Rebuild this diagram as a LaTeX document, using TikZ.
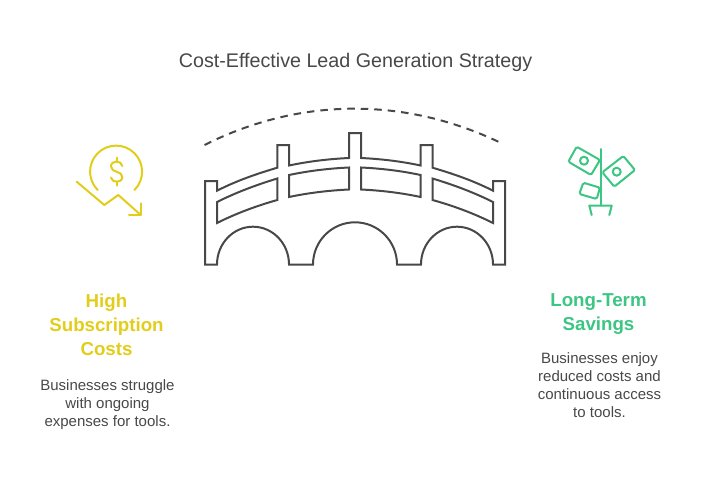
\documentclass[tikz,border=0pt]{standalone}
\usepackage{fontspec}
\setmainfont{Liberation Sans}
\usetikzlibrary{positioning}
\definecolor{inkgray}{HTML}{484848}
\definecolor{costyellow}{HTML}{E2CD1B}
\definecolor{savegreen}{HTML}{3CC583}
\tikzstyle{title}=[text=inkgray,font=\fontsize{19.7}{22}\selectfont]
\tikzstyle{heading}=[align=center,font=\bfseries\fontsize{18.7}{24}\selectfont]
\tikzstyle{body}=[align=center,text=inkgray,font=\fontsize{15}{18}\selectfont]
\tikzstyle{bridge}=[draw=inkgray,line width=2pt,line join=miter]
\tikzstyle{icon}=[line width=2pt,line cap=round,line join=round]

\begin{document}
\begin{tikzpicture}[x=1pt,y=-1pt]
  \useasboundingbox (0,0) rectangle (710,482);
  \node[title] (title) at (355.5,62) {Cost-Effective Lead Generation Strategy};
  % left column
  \node[heading,text=costyellow] (high) at (106.5,325) {High\\Subscription\\Costs};
  \node[body,below=17pt of high,xshift=1pt] (highbody) {Businesses struggle\\with ongoing\\expenses for tools.};
  % right column
  \node[heading,text=savegreen] (long) at (598.5,314) {Long-Term\\Savings};
  \node[body,below=11pt of long,xshift=1pt] (longbody) {Businesses enjoy\\reduced costs and\\continuous access\\to tools.};
  % arc over the bridge
  \draw[draw=inkgray,line width=2pt,dash pattern=on 7.5pt off 6pt] (204.5,145) .. controls (300,97) and (405,97) .. (500,142.5);
  % bridge outline
  \draw[bridge] (205,181) -- (217,181) -- (217,190.7)
    .. controls (236,181) and (256,174) .. (277.3,167.7) -- (277.3,145) -- (289,145) -- (289,165.5)
    .. controls (308,161.5) and (328,159) .. (349,158) -- (349,133) -- (361,133) -- (361,158)
    .. controls (382,159) and (402,161.5) .. (420.5,165.5) -- (420.5,145) -- (432.5,145) -- (432.5,167.7)
    .. controls (454,174) and (474,181) .. (493,190.7) -- (493,181) -- (505,181) -- (505,264.5) -- (493,264.5)
    arc (0:-180:36 and 37.8) -- (397,264.5)
    arc (0:-180:42 and 42.2) -- (289,264.5)
    arc (0:-180:36 and 37.8) -- (205,264.5) -- cycle;
  % railing panels
  \draw[bridge] (217,202) .. controls (236,192.5) and (256,185) .. (277.3,178.5) -- (277.3,200)
    .. controls (256,206) and (236,213.5) .. (217,223) -- cycle;
  \draw[bridge] (289,175) .. controls (308,171) and (328,168.5) .. (349,167.5) -- (349,189.5)
    .. controls (328,190.5) and (308,193) .. (289,197) -- cycle;
  \draw[bridge] (361,167.5) .. controls (382,168.5) and (402,171) .. (420.5,175) -- (420.5,197)
    .. controls (402,193) and (382,190.5) .. (361,189.5) -- cycle;
  \draw[bridge] (432.5,178.5) .. controls (454,185) and (474,192.5) .. (493,202) -- (493,223)
    .. controls (474,213.5) and (454,206) .. (432.5,200) -- cycle;
  % falling cost icon
  \begin{scope}[icon,draw=costyellow]
    \draw (97.7,190) arc (135:405:26);
    \draw (122.3,166) .. controls (121.5,160) and (111,160) .. (111,166.5) .. controls (111,173) and (122.3,170.5) .. (122.3,177)
      .. controls (122.3,183.5) and (111.5,183) .. (111,177.5);
    \draw (116.5,157.7) -- (116.5,161.5) (116.5,182) -- (116.5,185.7);
    \draw (76.7,181.7) -- (104.3,205) -- (118.3,195) -- (140,214.3);
    \draw (141,203.3) -- (141,215) -- (129,215);
  \end{scope}
  % money plant icon
  \begin{scope}[icon,draw=savegreen]
    \draw (600.7,149) -- (600.7,205.7);
    \draw (591.7,215) -- (589.3,205.7) -- (611.7,205.7) -- (609.3,215);
    \draw[rounded corners=1.5pt] (576.7,146.7) -- (600,160) -- (591,175) -- (568.3,161.7) -- cycle;
    \draw (584,160.7) circle (4pt);
    \draw[rounded corners=1.5pt] (623.3,156) -- (635,170) -- (614.3,186.7) -- (602.3,172.3) -- cycle;
    \draw (616.7,171.7) circle (4pt);
    \draw[rounded corners=1.5pt] (583.3,182.7) -- (600,187.7) -- (596.7,199) -- (579.3,194) -- cycle;
  \end{scope}
\end{tikzpicture}
\end{document}
